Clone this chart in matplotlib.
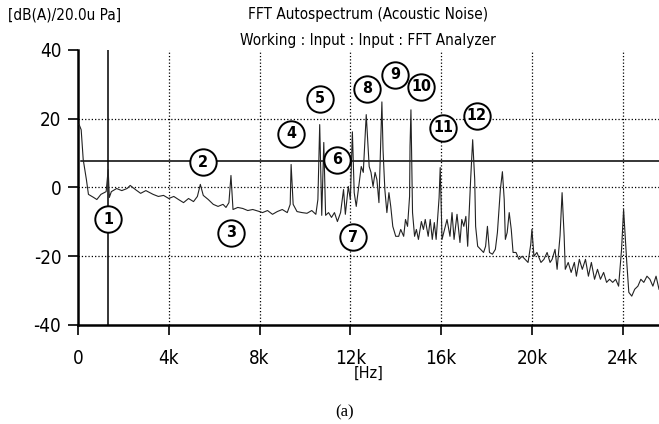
import matplotlib
matplotlib.use('Agg')
import matplotlib.pyplot as plt

plt.rcParams['font.family'] = ['DejaVu Sans']
plt.rcParams['font.stretch'] = 'condensed'
plt.rcParams['axes.unicode_minus'] = False

# spectrum (kHz, dB)
freq_khz = [0.05, 0.14, 0.23, 0.37, 0.46, 0.69, 0.83, 1.01, 1.15, 1.24, 1.33, 1.38, 1.47, 1.70, 1.93,
            2.16, 2.30, 2.53, 2.76, 2.99, 3.31, 3.54, 3.77, 4.00,
            4.22, 4.43, 4.65, 4.87, 5.09, 5.26, 5.39, 5.52, 5.74, 5.96, 6.17, 6.39, 6.52, 6.65, 6.74,
            6.83, 7.04, 7.26, 7.48, 7.70, 8.00,
            8.13, 8.35, 8.57, 8.78, 9.00, 9.22, 9.35, 9.39, 9.48, 9.65, 9.87, 10.09, 10.30, 10.48,
            10.57, 10.65, 10.74, 10.83, 10.91, 11.04, 11.17, 11.30, 11.43, 11.57, 11.70, 11.78,
            11.91, 12.00,
            12.09, 12.17, 12.26, 12.39, 12.48, 12.57, 12.70, 12.83, 12.91, 13.00, 13.09, 13.17,
            13.26, 13.33, 13.39, 13.44, 13.52, 13.61, 13.70, 13.78, 13.87, 14.00, 14.13, 14.22,
            14.35, 14.43, 14.52, 14.61, 14.63, 14.67, 14.70, 14.74, 14.83, 14.91, 15.00, 15.13,
            15.22, 15.30, 15.43, 15.52, 15.61, 15.70, 15.78, 15.91, 15.96, 16.04,
            16.26, 16.39, 16.48, 16.57, 16.70, 16.83, 16.91, 17.00, 17.09, 17.17, 17.30, 17.39,
            17.48, 17.52, 17.61, 17.74, 17.87, 17.96, 18.04, 18.13, 18.26, 18.39, 18.48, 18.61,
            18.70, 18.78, 18.83, 18.91, 19.00, 19.09, 19.17, 19.30, 19.43, 19.57, 19.70, 19.83,
            19.95, 20.00, 20.09,
            20.22, 20.40, 20.53, 20.67, 20.80, 20.89, 21.02, 21.11, 21.24, 21.33, 21.42, 21.47,
            21.60, 21.73, 21.87, 21.96, 22.09, 22.22, 22.36, 22.49, 22.62, 22.76, 22.89, 23.02,
            23.16, 23.29, 23.42, 23.56, 23.69, 23.82, 23.95, 24.04, 24.12, 24.18, 24.27, 24.40,
            24.53, 24.67, 24.80, 24.93, 25.07, 25.20, 25.33, 25.47, 25.60]
level_db = [18.3, 16.8, 8.1, 2.3, -2.0, -2.9, -3.5, -2.0, -1.5, -1.2, 5.2, -2.9, -1.2, -0.3, -0.9,
            -0.3, 0.6, -0.6, -1.7, -0.9, -2.0, -2.6, -2.3, -3.2,
            -2.6, -3.5, -4.4, -3.2, -4.1, -2.6, 0.9, -2.3, -3.5, -4.9, -5.5, -4.9, -5.8, -4.4, 3.5,
            -6.4, -5.8, -6.1, -6.7, -6.4, -7.0,
            -7.3, -6.7, -7.8, -7.0, -6.4, -7.3, -4.9, 6.7, -4.9, -7.0, -7.3, -7.5, -6.7, -7.8,
            -3.5, 18.3, -8.1, 13.1, -8.1, -7.3, -8.7, -7.3, -9.9, -7.3, -0.6, -7.8,
            0.3, -3.5,
            16.2, -1.5, -5.5, 1.5, 6.1, 4.4, 21.2, 6.1, 4.4, 0.3, 4.4, 2.3,
            -4.4, 11.0, 24.9, 11.0, -0.6, -7.3, -1.5, -5.5, -11.3, -14.2, -14.2, -12.2,
            -14.2, -9.3, -11.3, -2.6, 12.0, 22.6, 10.0, -7.3, -14.2, -12.2, -15.1, -9.9,
            -12.2, -9.3, -14.2, -9.3, -15.1, -10.2, -15.1, -3.0, 5.8, -15.1,
            -9.3, -14.2, -7.3, -15.1, -7.8, -16.0, -9.3, -11.3, -8.4, -17.1, 2.3, 13.9,
            2.3, -11.3, -17.1, -18.0, -18.9, -17.1, -11.3, -18.9, -19.4, -18.0, -13.1, -0.6,
            4.6, -3.5, -15.1, -13.1, -7.3, -12.2, -18.9, -18.9, -20.9, -20.0, -20.9, -21.8,
            -16.5, -12.2, -20.0,
            -18.9, -21.8, -20.9, -18.9, -21.8, -20.9, -18.0, -23.8, -14.0, -1.5, -14.0, -23.8,
            -21.8, -24.7, -21.8, -25.8, -20.9, -23.8, -20.9, -25.8, -21.8, -26.7, -23.8, -26.7,
            -24.7, -27.6, -26.7, -27.6, -26.7, -28.7, -18.0, -6.4, -15.0, -21.8, -30.5, -31.6,
            -29.6, -28.7, -26.7, -27.6, -25.8, -26.7, -28.7, -25.8, -29.6]

# numbered peak markers (kHz, dB)
label_num = ['1', '2', '3', '4', '5', '6', '7', '8', '9', '10', '11', '12']
label_khz = [1.33, 5.52, 6.74, 9.39, 10.65, 11.43, 12.13, 12.74, 13.96, 15.13, 16.09, 17.57]
label_db = [-9.3, 7.3, -13.1, 15.7, 25.8, 8.1, -14.5, 28.7, 32.8, 29.3, 17.4, 20.9]

ref_khz = 1.33   # solid vertical marker line
ref_db = 7.8     # solid horizontal marker line

x_ticks = [0, 4, 8, 12, 16, 20, 24]
x_labels = ['0', '4k', '8k', '12k', '16k', '20k', '24k']
y_ticks = [-40, -20, 0, 20, 40]

fig = plt.figure(figsize=(6.59, 4.24), dpi=100)
ax = fig.add_axes([78 / 659, 99 / 424, 1 - 78 / 659, 275 / 424])
ax.set_xlim(0, 25.6)
ax.set_ylim(-40, 40)

for v in x_ticks[1:]:
    ax.axvline(v, color='black', ls=':', lw=0.9, zorder=1)
for h in [-20, 0, 20]:
    ax.axhline(h, color='black', ls=':', lw=0.9, zorder=1)

ax.axvline(ref_khz, color='black', lw=1.1, zorder=2)
ax.plot([0.15, 25.6], [ref_db, ref_db], color='black', lw=1.1, zorder=2)

ax.plot(freq_khz, level_db, color='#222222', lw=0.8, zorder=3)

ax.plot(label_khz, label_db, ls='none', marker='o', ms=19, mfc='white', mec='black',
        mew=1.4, zorder=4)
for n, fx, fy in zip(label_num, label_khz, label_db):
    ax.text(fx, fy, n, ha='center', va='center', fontsize=11.5, fontweight='bold', zorder=5)

ax.set_xticks(x_ticks)
ax.set_xticklabels(x_labels)
ax.set_yticks(y_ticks)
ax.tick_params(labelsize=13.5, length=7, width=1.2, direction='out')
ax.tick_params(axis='x', pad=10)
ax.tick_params(axis='y', pad=5)
for s in ['top', 'right']:
    ax.spines[s].set_visible(False)
for s in ['left', 'bottom']:
    ax.spines[s].set_linewidth(1.8)

fig.text(8 / 659, 1 - 15 / 424, '[dB(A)/20.0u Pa]', fontsize=11, va='center', ha='left')
fig.text(368 / 659, 1 - 15 / 424, 'FFT Autospectrum (Acoustic Noise)', fontsize=11,
         va='center', ha='center')
fig.text(368 / 659, 1 - 40 / 424, 'Working : Input : Input : FFT Analyzer', fontsize=11,
         va='center', ha='center')
fig.text(369 / 659, 1 - 373 / 424, '[Hz]', fontsize=11.5, va='center', ha='center')
fig.text(345 / 659, 1 - 412 / 424, '(a)', fontsize=12, va='center', ha='center',
         family='Liberation Serif', stretch='normal')

fig.savefig('out.png', dpi=100)
